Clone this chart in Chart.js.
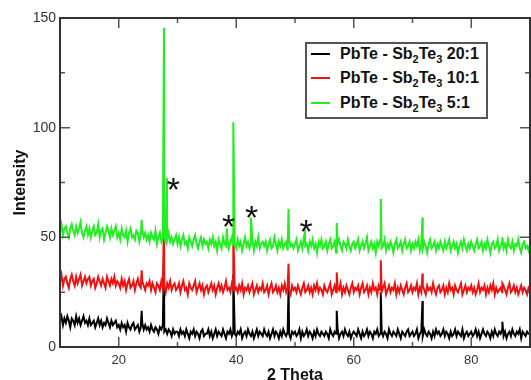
<!DOCTYPE html>
<html>
<head>
<meta charset="utf-8">
<script src="https://cdn.jsdelivr.net/npm/chart.js@4.4.1/dist/chart.umd.min.js"></script>
<style>
  body { margin: 0; background: #fff; }
  #wrap { position: relative; width: 531px; height: 380px; }
  #legend {
    position: absolute; left: 305px; top: 42px; width: 179px; height: 73px;
    border: 2px solid #555; background: #fff;
    font: bold 16px "Liberation Sans", Arial, sans-serif; color: #111;
  }
  .row { position: absolute; left: 0; height: 24px; line-height: 24px; white-space: nowrap; }
  .swatch { position: absolute; left: 4px; top: 11px; width: 19px; height: 2px; }
  .txt { position: absolute; left: 33px; top: 0; }
  sub { font-size: 11px; vertical-align: -4px; line-height: 0; }
</style>
</head>
<body>
<div id="wrap">
  <canvas id="xrd" width="531" height="380"></canvas>
  <div id="legend"></div>
</div>
<script>
// 2 theta sampling of the background traces
const thetaStart = 10;
const thetaStep = 0.25;

const blackBase = [
  12, 14, 10, 13, 11, 14, 12, 9, 13, 12, 10, 14, 11, 13, 10, 12, 14, 11, 12, 10,
  13, 10, 11, 12, 9, 11, 13, 10, 12, 9, 11, 10, 13, 11, 9, 12, 10, 11, 12, 9,
  10, 8, 11, 9, 10, 7, 11, 9, 8, 10, 11, 8, 9, 10, 7, 9, 11, 8, 10, 8,
  9, 7, 10, 8, 7, 9, 8, 6, 9, 8, 10, 7, 8, 6, 8, 7, 5, 8, 6, 7,
  7, 5, 8, 6, 7, 5, 8, 6, 4, 7, 6, 8, 5, 7, 6, 4, 7, 8, 5, 6,
  6, 8, 5, 7, 4, 6, 8, 5, 7, 6, 5, 8, 6, 4, 7, 6, 8, 5, 7, 6,
  5, 7, 6, 8, 4, 6, 7, 5, 8, 6, 5, 7, 4, 6, 8, 5, 7, 6, 5, 8,
  6, 5, 7, 4, 6, 8, 5, 7, 6, 4, 7, 5, 8, 6, 5, 7, 6, 4, 7, 6,
  7, 5, 6, 8, 4, 7, 5, 6, 8, 5, 7, 6, 4, 7, 5, 8, 6, 5, 7, 6,
  5, 7, 6, 4, 8, 6, 5, 7, 6, 8, 4, 6, 7, 5, 8, 6, 5, 7, 4, 6,
  7, 6, 5, 8, 6, 4, 7, 5, 6, 8, 5, 7, 6, 4, 7, 6, 8, 5, 6, 7,
  5, 7, 6, 4, 8, 6, 5, 7, 6, 5, 8, 6, 4, 7, 6, 5, 7, 8, 5, 6,
  7, 5, 6, 8, 4, 6, 7, 5, 8, 6, 5, 7, 6, 4, 7, 5, 8, 6, 7, 5,
  6, 8, 5, 7, 6, 4, 7, 5, 6, 8, 5, 7, 6, 5, 8, 4, 6, 7, 5, 6,
  7, 5, 6, 8, 5, 7, 4, 6, 8, 6, 5, 7, 6, 4, 7, 5, 8, 6, 5, 7,
  6, 8, 5, 7, 4, 6, 7, 5, 8, 6, 5, 7, 6, 8, 4, 7, 6, 5, 7, 6,
  6
];

const redBase = [
  30, 33, 28, 31, 32, 29, 27, 31, 33, 30, 28, 32, 29, 31, 33, 28, 30, 32, 29, 31,
  32, 28, 30, 31, 27, 29, 32, 30, 28, 31, 29, 27, 32, 30, 28, 31, 29, 32, 28, 30,
  29, 27, 31, 28, 30, 26, 29, 31, 27, 28, 30, 26, 29, 31, 28, 27, 30, 28, 26, 29,
  28, 30, 26, 29, 27, 25, 29, 28, 26, 30, 27, 28, 25, 29, 27, 30, 26, 28, 29, 26,
  27, 29, 25, 28, 30, 26, 27, 24, 29, 27, 26, 28, 30, 25, 27, 29, 26, 28, 24, 27,
  28, 25, 27, 29, 26, 28, 24, 27, 29, 26, 28, 25, 27, 30, 26, 27, 25, 29, 27, 26,
  27, 25, 28, 26, 29, 24, 27, 26, 28, 25, 27, 29, 24, 26, 28, 25, 27, 26, 29, 25,
  26, 28, 24, 27, 29, 25, 26, 28, 25, 27, 24, 28, 26, 29, 25, 27, 26, 24, 28, 26,
  27, 25, 28, 26, 24, 27, 29, 25, 26, 28, 25, 27, 24, 28, 26, 29, 25, 27, 26, 24,
  28, 26, 25, 27, 29, 24, 26, 28, 25, 27, 26, 29, 24, 27, 25, 28, 26, 24, 27, 29,
  25, 27, 26, 28, 24, 27, 29, 25, 26, 28, 24, 27, 25, 29, 26, 27, 24, 28, 26, 25,
  27, 29, 24, 26, 28, 25, 27, 26, 29, 24, 27, 25, 28, 26, 24, 27, 29, 25, 26, 28,
  25, 27, 26, 29, 24, 27, 25, 28, 26, 24, 28, 26, 27, 25, 29, 26, 24, 27, 28, 25,
  26, 28, 24, 27, 25, 29, 26, 27, 24, 28, 26, 25, 27, 29, 24, 26, 28, 25, 27, 26,
  28, 25, 27, 24, 26, 29, 25, 27, 26, 28, 24, 27, 25, 28, 26, 29, 24, 27, 25, 26,
  27, 25, 28, 26, 24, 27, 29, 25, 26, 28, 25, 27, 24, 26, 28, 25, 27, 26, 24, 27,
  26
];

const greenBase = [
  53, 56, 51, 54, 55, 52, 50, 54, 56, 53, 51, 55, 52, 54, 57, 52, 50, 53, 55, 51,
  54, 50, 53, 55, 51, 52, 56, 50, 53, 54, 49, 52, 55, 53, 50, 54, 51, 53, 55, 50,
  52, 49, 54, 51, 50, 53, 48, 52, 54, 50, 51, 49, 53, 52, 48, 51, 53, 50, 52, 49,
  51, 48, 52, 50, 49, 53, 47, 50, 52, 48, 50, 51, 47, 49, 52, 48, 50, 47, 49, 51,
  47, 50, 46, 49, 51, 47, 48, 45, 50, 48, 46, 49, 51, 47, 45, 48, 50, 46, 49, 47,
  48, 45, 49, 47, 50, 46, 48, 44, 49, 47, 45, 50, 47, 46, 49, 45, 48, 50, 46, 47,
  45, 49, 46, 48, 44, 47, 50, 46, 48, 45, 47, 49, 44, 48, 46, 50, 45, 47, 48, 46,
  48, 44, 47, 49, 45, 46, 50, 47, 44, 48, 46, 49, 45, 47, 48, 44, 49, 46, 47, 45,
  47, 49, 44, 46, 48, 45, 50, 46, 47, 44, 48, 46, 49, 45, 47, 43, 48, 46, 49, 45,
  46, 48, 44, 47, 49, 45, 46, 48, 43, 47, 49, 46, 44, 48, 47, 45, 49, 46, 44, 47,
  48, 45, 47, 49, 44, 46, 48, 45, 47, 50, 44, 46, 48, 45, 47, 43, 48, 46, 49, 45,
  46, 49, 44, 47, 45, 48, 46, 43, 47, 49, 45, 46, 48, 44, 47, 49, 45, 46, 48, 44,
  47, 45, 48, 46, 49, 44, 47, 45, 48, 46, 43, 47, 49, 45, 46, 48, 44, 47, 45, 48,
  46, 44, 48, 45, 47, 49, 44, 46, 48, 45, 47, 43, 46, 48, 45, 49, 46, 44, 47, 45,
  48, 46, 44, 47, 49, 45, 46, 48, 44, 47, 45, 49, 46, 43, 47, 48, 45, 46, 49, 44,
  46, 48, 45, 47, 44, 49, 46, 45, 48, 44, 47, 46, 49, 45, 43, 47, 48, 45, 46, 44,
  47
];

// reflection positions (2 theta) and their peak intensities, null = no peak
const peakPos    = [23.9, 27.7, 28.2, 38.4, 39.5, 42.5, 48.9, 51.7, 57.1, 64.6, 71.7, 85.3];
const blackPeaks = [16.5, 40, null, null, 33, null, 27, null, 16.5, 25, 21, 11.5];
const redPeaks   = [35, 58, null, null, 52, null, 38, null, 34, 39.5, 33.5, 29];
const greenPeaks = [58, 145.5, 77, 54, 102.5, 59, 63, 52.5, 56.5, 67.5, 59, 50];

const ratios = ['20:1', '10:1', '5:1'];
const colors = ['#000000', '#ee1111', '#22ee22'];

const xTicks = [20, 40, 60, 80];
const xMinor = [30, 50, 70];
const yTicks = [0, 50, 100, 150];
const yMinor = [25, 75, 125];

// the asterisks marking the Sb2Te3 reflections
const starX = [29.3, 38.7, 42.6, 51.9];
const starY = [75.5, 58.8, 63, 56.5];

const family = '"Liberation Sans", Arial, sans-serif';

function buildSeries(base, peaks) {
    const pts = base.map((v, i) => ({ x: thetaStart + i * thetaStep, y: v }));
    peakPos.forEach((p, i) => {
        if (peaks[i] != null) pts.push({ x: p, y: peaks[i] });
    });
    pts.sort((a, b) => a.x - b.x);
    return pts;
}

const framePlugin = {
    id: 'frame',
    afterDatasetsDraw(chart) {
        const { ctx, chartArea: a, scales: { x, y } } = chart;
        ctx.save();

        ctx.fillStyle = '#111';
        ctx.font = '34px ' + family;
        ctx.textAlign = 'center';
        ctx.textBaseline = 'alphabetic';
        starX.forEach((sx, i) => {
            ctx.fillText('*', x.getPixelForValue(sx), y.getPixelForValue(starY[i]) + 34 * 0.58);
        });

        ctx.strokeStyle = '#555';
        ctx.lineWidth = 1.5;
        ctx.beginPath();
        function xTick(vals, len) {
            vals.forEach(v => {
                const px = x.getPixelForValue(v);
                ctx.moveTo(px, a.bottom); ctx.lineTo(px, a.bottom - len);
                ctx.moveTo(px, a.top); ctx.lineTo(px, a.top + len);
            });
        }
        function yTick(vals, len) {
            vals.forEach(v => {
                const py = y.getPixelForValue(v);
                ctx.moveTo(a.left, py); ctx.lineTo(a.left + len, py);
                ctx.moveTo(a.right, py); ctx.lineTo(a.right - len, py);
            });
        }
        xTick(xTicks, 10);
        xTick(xMinor, 5);
        yTick(yTicks, 10);
        yTick(yMinor, 5);
        ctx.stroke();

        ctx.strokeStyle = '#333';
        ctx.lineWidth = 2;
        ctx.strokeRect(a.left, a.top, a.right - a.left, a.bottom - a.top);
        ctx.restore();
    }
};

const bases = [blackBase, redBase, greenBase];
const peaks = [blackPeaks, redPeaks, greenPeaks];

const datasets = bases.map((b, i) => ({
    label: 'PbTe - Sb2Te3 ' + ratios[i],
    data: buildSeries(b, peaks[i]),
    borderColor: colors[i],
    borderWidth: 2,
    pointRadius: 0,
    tension: 0,
    order: 3 - i
}));

new Chart(document.getElementById('xrd'), {
    type: 'line',
    data: { datasets: datasets },
    options: {
        responsive: false,
        animation: false,
        devicePixelRatio: 1,
        layout: { padding: { top: 18, right: 1, left: 0, bottom: 0 } },
        plugins: { legend: { display: false }, tooltip: { enabled: false } },
        scales: {
            x: {
                type: 'linear',
                min: 10,
                max: 90,
                grid: { display: false, drawTicks: false },
                border: { display: false },
                afterBuildTicks: s => { s.ticks = xTicks.map(v => ({ value: v })); },
                afterFit: s => { s.height = 33; },
                ticks: { color: '#333', font: { family: family, size: 13 }, padding: 6, maxRotation: 0 },
                title: {
                    display: true, text: '2 Theta', color: '#111',
                    font: { family: family, size: 16, weight: 'bold' },
                    padding: { top: 0, bottom: -5 }
                }
            },
            y: {
                type: 'linear',
                min: 0,
                max: 150,
                grid: { display: false, drawTicks: false },
                border: { display: false },
                afterBuildTicks: s => { s.ticks = yTicks.map(v => ({ value: v })); },
                afterFit: s => { s.width = 60; },
                ticks: { color: '#333', font: { family: family, size: 14 }, padding: 4 },
                title: {
                    display: true, text: 'Intensity', color: '#111',
                    font: { family: family, size: 16, weight: 'bold' },
                    padding: { top: 11, bottom: 0 }
                }
            }
        }
    },
    plugins: [framePlugin]
});

// legend with real subscripts
const legend = document.getElementById('legend');
ratios.forEach((r, i) => {
    const row = document.createElement('div');
    row.className = 'row';
    row.style.top = (-2.5 + i * 24.5) + 'px';
    row.style.width = '179px';
    row.innerHTML = '<span class="swatch" style="background:' + colors[i] + '"></span>' +
        '<span class="txt">PbTe - Sb<sub>2</sub>Te<sub>3</sub> ' + r + '</span>';
    legend.appendChild(row);
});
</script>
</body>
</html>
